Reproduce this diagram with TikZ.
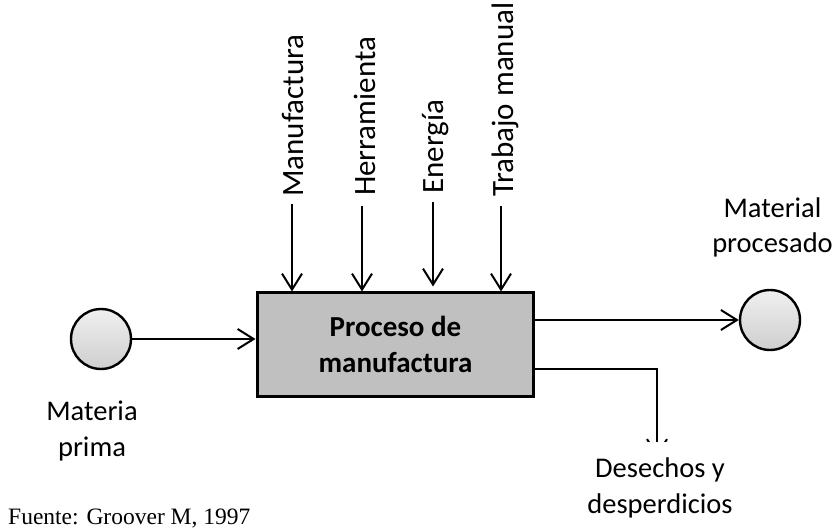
\documentclass[tikz,border=0pt]{standalone}
\usepackage{fontspec}
\setmainfont{Carlito}
\newfontfamily\sourcefont{Liberation Serif}
\usetikzlibrary{arrows.meta}

\tikzset{
  lbl/.style={font=\fontsize{28.5}{35.5}\selectfont, inner sep=0pt, align=center, text=black},
  vlbl/.style={font=\fontsize{31}{36}\selectfont, inner sep=0pt, anchor=base west, rotate=90},
  terminal/.style={circle, draw=black, line width=2.4pt, minimum size=60pt, inner sep=0pt,
                   top color=gray!12, bottom color=gray!38},
  procbox/.style={rectangle, draw=black, line width=3pt, fill=procgray,
                  minimum width=276pt, minimum height=103pt, inner sep=0pt},
  flow/.style={line width=2pt, -{Straight Barb[length=16pt, width=20pt, line width=2pt]}},
}
\definecolor{procgray}{RGB}{192,192,192}

\begin{document}
\begin{tikzpicture}[x=1pt, y=-1pt]
  \useasboundingbox[fill=white] (0,0) rectangle (838,529);

  % terminals and process
  \node[terminal] (raw) at (101,339) {};
  \node[terminal] (out) at (770,320) {};
  \node[procbox] (box) at (395,344.5) {};
  % multi-line labels are anchored on the baseline of their last line
  \node[lbl, anchor=base, font=\fontsize{29}{35.5}\selectfont\bfseries] (boxtxt) at (395.5,372)
       {Proceso de\\manufactura};

  % inputs from above
  \coordinate (t1) at (292,204);
  \coordinate (t2) at (362,206);
  \coordinate (t3) at (433,202);
  \coordinate (t4) at (501,206);
  \draw[flow] (t1) -- (t1 |- box.north);
  \draw[flow] (t2) -- (t2 |- box.north);
  \draw[flow, shorten >=5pt] (t3) -- (t3 |- box.north);
  \draw[flow] (t4) -- (t4 |- box.north);

  \node[vlbl] (l1) at (303,197) {Manufactura};
  \node[vlbl] (l2) at (375,196) {Herramienta};
  \node[vlbl] (l3) at (443,194) {Energía};
  \node[vlbl] (l4) at (513,197) {Trabajo manual};

  % main flow
  \draw[flow] (raw.east) -- (raw.east -| box.west);
  \coordinate (o1) at (box.east |- out.west);
  \draw[flow] (o1) -- (out.west);

  % waste branch, its arrow tip cut off above the label
  \coordinate (w0) at (box.east |- 0,369);
  \coordinate (w1) at (657,369);
  \coordinate (w2) at (657,457);
  \begin{scope}
    \clip (0,0) rectangle (838,441);
    \draw[flow] (w0) -- (w1) -- (w2);
  \end{scope}

  % labels
  \node[lbl, anchor=base] (rawtxt) at (92,456) {Materia\\prima};
  \node[lbl, anchor=base] (outtxt) at (772.5,253) {Material\\procesado};
  \node[lbl, anchor=base] (wastetxt) at (660,513) {Desechos y\\desperdicios};
  \node[anchor=base west, inner sep=0pt, font=\sourcefont\fontsize{23.5}{28}\selectfont] (src) at (8,524)
       {Fuente: Groover M, 1997};
\end{tikzpicture}
\end{document}
